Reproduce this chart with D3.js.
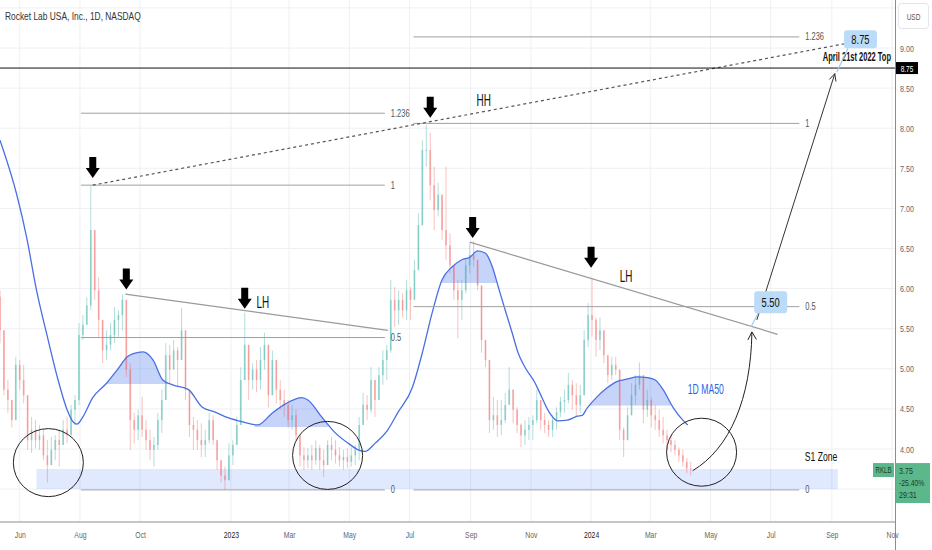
<!DOCTYPE html>
<html><head><meta charset="utf-8">
<script src="https://cdn.jsdelivr.net/npm/d3@7"></script>
<style>html,body{margin:0;padding:0;background:#fff;} svg{display:block;font-family:"Liberation Sans",Arial,sans-serif;}</style>
</head><body><svg id="c" width="932" height="550"></svg>
<script>
// ---------------- DATA ----------------
const title = "Rocket Lab USA, Inc., 1D, NASDAQ";
const candleStart = "2022-05-12";
const candleStepDays = 4;
const firstOpen = 5.90;
const highs = [5.98,5.11,4.86,4.55,5.15,5.11,5.05,4.45,4.40,4.36,
4.30,4.24,4.11,4.15,4.17,4.24,4.36,4.40,4.55,4.67,
5.57,5.67,5.89,7.29,6.48,6.14,5.52,5.48,5.57,5.77,
5.73,5.93,5.86,5.07,4.45,4.49,4.65,4.36,4.24,4.15,
4.45,4.74,5.32,5.30,5.36,5.27,5.76,5.48,4.65,4.40,
4.36,4.32,4.24,4.45,4.42,4.11,3.82,3.78,4.07,4.11,
4.40,5.02,5.70,5.23,5.07,5.11,5.27,5.45,5.02,5.23,
4.95,4.86,4.74,4.61,4.55,4.49,4.07,4.02,4.01,4.05,
4.11,4.05,3.99,4.11,4.15,4.11,4.02,3.99,4.01,4.02,
4.05,4.40,4.70,4.67,5.02,4.70,5.02,5.23,5.30,6.11,
6.02,5.98,5.94,6.11,6.02,6.36,6.94,7.85,8.04,7.94,
7.52,7.32,7.14,7.52,6.69,6.27,6.11,6.11,6.39,6.57,
6.59,6.36,5.98,5.36,5.11,4.65,4.61,4.61,4.70,5.02,
4.74,4.52,4.32,4.36,4.40,4.42,4.74,4.61,4.45,4.36,
4.42,4.52,4.65,4.74,4.95,4.86,4.82,4.80,5.48,5.82,
6.13,5.64,5.64,5.36,5.17,5.15,5.15,4.99,4.27,4.52,
4.82,4.92,5.08,4.77,4.74,4.65,4.55,4.49,4.40,4.24,
4.17,4.11,4.02,3.99,3.89,3.84];
const lows = [5.32,4.67,4.45,4.27,4.61,4.74,4.57,3.99,3.95,4.01,
3.99,3.86,3.58,3.82,3.86,3.78,4.05,4.07,4.24,4.30,
4.55,5.36,5.57,5.73,5.86,5.40,5.07,5.11,5.23,5.32,
5.40,5.48,4.90,3.99,4.07,4.11,4.15,3.99,3.86,3.78,
3.99,4.20,4.61,4.82,5.02,4.77,5.11,4.61,4.15,3.99,
3.99,3.90,3.90,4.07,4.05,3.74,3.58,3.49,3.67,3.80,
4.07,4.36,4.99,4.61,4.74,4.71,4.74,4.99,4.52,4.80,
4.57,4.49,4.40,4.27,4.24,4.11,3.78,3.74,3.76,3.74,
3.80,3.74,3.65,3.82,3.86,3.82,3.78,3.74,3.76,3.78,
3.80,3.86,4.30,4.36,4.45,4.40,4.61,4.80,4.86,5.20,
5.52,5.55,5.64,5.61,5.61,5.86,6.33,6.92,7.52,7.10,
6.73,6.90,6.61,6.36,6.19,5.86,5.38,5.61,5.94,6.19,
6.27,5.98,5.20,5.02,4.20,4.24,4.15,4.17,4.32,4.61,
4.32,4.20,4.02,4.05,4.11,4.11,4.32,4.24,4.20,4.15,
4.15,4.24,4.40,4.45,4.57,4.49,4.40,4.45,4.67,5.27,
5.40,5.15,5.23,5.07,4.82,4.86,4.92,4.11,3.90,4.15,
4.49,4.55,4.74,4.32,4.40,4.27,4.24,4.15,4.07,3.99,
3.96,3.92,3.84,3.78,3.70,3.67];
const closes = [5.48,4.74,4.61,4.36,5.05,4.86,4.67,4.11,4.24,4.11,
4.17,3.92,3.80,3.99,4.11,4.05,4.24,4.17,4.49,4.61,
5.42,5.55,5.79,6.73,5.98,5.61,5.23,5.30,5.42,5.61,
5.67,5.86,4.99,4.36,4.24,4.42,4.24,4.11,3.99,4.05,
4.36,4.61,5.17,4.99,5.23,5.11,5.48,4.74,4.30,4.24,
4.11,4.05,4.11,4.36,4.11,3.86,3.67,3.61,3.92,4.05,
4.30,4.86,5.30,4.86,4.99,4.86,5.11,5.30,4.67,5.11,
4.74,4.61,4.55,4.36,4.42,4.17,3.92,3.86,3.92,3.86,
4.01,3.86,3.80,4.05,3.99,3.92,3.86,3.90,3.84,3.92,
3.99,4.30,4.55,4.49,4.86,4.61,4.92,5.11,5.23,5.86,
5.73,5.86,5.73,5.98,5.86,6.23,6.79,7.73,7.73,7.29,
6.98,7.17,6.73,6.54,6.29,5.98,5.86,5.98,6.29,6.42,
6.36,6.04,5.36,5.11,4.36,4.42,4.30,4.36,4.55,4.74,
4.49,4.30,4.17,4.24,4.30,4.36,4.61,4.36,4.30,4.24,
4.36,4.46,4.59,4.61,4.80,4.67,4.55,4.67,5.36,5.67,
5.61,5.36,5.48,5.17,4.92,5.05,4.99,4.24,4.11,4.42,
4.67,4.80,4.92,4.49,4.61,4.42,4.36,4.24,4.17,4.11,
4.05,3.99,3.92,3.84,3.76,3.75];

const maDates = ["2022-05-12","2022-05-29","2022-06-08","2022-06-18","2022-06-29","2022-07-09","2022-07-19","2022-07-25","2022-07-29","2022-08-04",
"2022-08-14","2022-08-28","2022-09-08","2022-09-18","2022-09-24","2022-10-04","2022-10-14","2022-10-24","2022-11-03","2022-11-19",
"2022-12-03","2022-12-16","2022-12-29","2023-01-12","2023-01-28","2023-02-12","2023-02-25","2023-03-14","2023-03-20","2023-04-03",
"2023-04-16","2023-04-30","2023-05-10","2023-05-17","2023-05-27","2023-06-09","2023-06-19","2023-07-04","2023-07-14","2023-07-24",
"2023-08-03","2023-08-13","2023-08-23","2023-08-31","2023-09-08","2023-09-16","2023-09-23","2023-09-29","2023-10-06","2023-10-13",
"2023-10-19","2023-10-26","2023-11-05","2023-11-10","2023-11-20","2023-11-28","2023-12-08","2023-12-18","2023-12-23","2023-12-28",
"2024-01-07","2024-01-17","2024-01-27","2024-02-06","2024-02-17","2024-02-27","2024-03-06","2024-03-14","2024-03-24","2024-04-03",
"2024-04-08"];
const maValues = [7.85,7.17,6.64,5.98,5.40,4.90,4.49,4.34,4.31,4.40,
4.64,4.82,4.99,5.15,5.19,5.21,5.11,4.86,4.80,4.74,
4.52,4.46,4.39,4.34,4.30,4.45,4.56,4.64,4.61,4.40,
4.21,4.07,3.99,3.97,4.07,4.24,4.45,4.77,5.20,5.70,
6.11,6.27,6.36,6.39,6.47,6.44,6.27,6.02,5.73,5.45,
5.20,5.02,4.83,4.70,4.45,4.35,4.36,4.41,4.42,4.51,
4.65,4.76,4.84,4.87,4.90,4.89,4.86,4.74,4.52,4.36,
4.30];

const yTicks = [4.00,4.50,5.00,5.50,6.00,6.50,7.00,7.50,8.00,8.50,9.00];
const yGrid = [3.5,4,4.5,5,5.5,6,6.5,7,7.5,8,8.5,9,9.5];
const xTickDates = ["2022-06-01","2022-08-01","2022-10-01","2023-01-01","2023-03-01","2023-05-01","2023-07-01","2023-09-01","2023-11-01","2024-01-01","2024-03-01","2024-05-01","2024-07-01","2024-09-01","2024-11-01"];
const xTickLabels = ["Jun","Aug","Oct","2023","Mar","May","Jul","Sep","Nov","2024","Mar","May","Jul","Sep","Nov"];

// MA50 highlight zones [from, to, base]
const maHighlights = [["2022-08-20","2022-10-31",4.81],["2023-01-25","2023-04-10",4.27],["2023-07-25","2023-10-10",6.07],["2023-12-20","2024-03-28",4.54]];
// S1 zone
const s1Zone = {from:"2022-06-18", to:"2024-09-07", lo:3.50, hi:3.75, label:"S1 Zone"};
// Fibonacci retracements
const fibs = [{from:"2022-08-02", to:"2023-06-06", zero:3.49, one:7.29},{from:"2023-07-05", to:"2024-07-30", zero:3.49, one:8.06}];
const fibLevels = [0, 0.5, 1, 1.236];
const fibLabels = ["0","0.5","1","1.236"];
// Trend lines
const trendLines = [["2022-09-16",5.93,"2023-06-09",5.48],["2023-08-31",6.58,"2024-07-08",5.43]];
const dashedLine = ["2022-08-14",7.29,"2024-09-17",9.06];
const topLevel = 8.75;
const topLabel = "April 21st 2022 Top";
// Peak arrows [date, value at tip]
const peakArrows = [["2022-08-14",7.38],["2022-09-17",5.99],["2023-01-15",5.75],["2023-07-22",8.13],["2023-09-03",6.63],["2024-01-01",6.26]];
// Circles [date, value]
const circles = [["2022-06-30",3.83],["2023-04-09",3.92],["2024-04-22",3.96]];
// Text notes [date, value, text]
const notes = [["2023-01-27",5.76,"LH"],["2023-09-07",8.28,"HH"],["2024-01-30",6.08,"LH"]];
const maLabel = ["2024-04-08",4.69,"1D MA50"];
// Targets
const callouts = [{date:"2024-07-01", v:5.83, text:"5.50", pDate:"2024-06-11", pV:5.52},{date:"2024-09-30", v:9.11, text:"8.75", pDate:"2024-09-06", pV:8.70}];
const curveArrow = ["2024-04-13",3.73,"2024-06-12",5.46];
const longArrow = ["2024-06-17",5.61,"2024-09-04",8.68];
const lastPrice = {ticker:"RKLB", price:"3.75", change:"-25.40%", timer:"29:31", v:3.75};

// ---------------- DRAW ----------------
const svg = d3.select("#c");
const plotR = 895, plotB = 522;
const parse = d3.utcParse("%Y-%m-%d");
const x = d3.scaleUtc().domain([parse("2022-05-12"), parse("2024-11-04")]).range([0, plotR]);
const y = d3.scaleLinear().domain([3.5, 9]).range([489.1, 48]);
const X = s => x(parse(s));

const defs = svg.append("defs");
defs.append("clipPath").attr("id","plotClip").append("rect").attr("x",0).attr("y",0).attr("width",plotR).attr("height",plotB);

function txt(parent, px, py, s, o={}) {
  return parent.append("text")
    .attr("transform", `translate(${px},${py}) scale(${o.sx ?? 0.72},1)`)
    .attr("text-anchor", o.anchor || "start")
    .attr("font-size", o.size || 10)
    .attr("font-weight", o.weight || "normal")
    .attr("fill", o.fill || "#333")
    .text(s);
}

const plot = svg.append("g").attr("clip-path","url(#plotClip)");

// grid
plot.append("g").selectAll("line").data(yGrid).join("line")
  .attr("x1",0).attr("x2",plotR).attr("y1",d=>y(d)).attr("y2",d=>y(d))
  .attr("stroke","#eef0f4").attr("stroke-width",1);
plot.append("g").selectAll("line").data(xTickDates).join("line")
  .attr("x1",d=>X(d)).attr("x2",d=>X(d)).attr("y1",0).attr("y2",plotB)
  .attr("stroke","#eef0f4").attr("stroke-width",1);

// S1 zone
plot.append("rect").attr("x",X(s1Zone.from)).attr("width",X(s1Zone.to)-X(s1Zone.from))
  .attr("y",y(s1Zone.hi)).attr("height",y(s1Zone.lo)-y(s1Zone.hi))
  .attr("fill","rgba(41,98,255,0.14)");

// MA data
const ma = maDates.map((d,i)=>({date:parse(d), v:maValues[i]}));

// highlights
maHighlights.forEach((h,i)=>{
  const id = "hl"+i;
  defs.append("clipPath").attr("id",id).append("rect")
    .attr("x",X(h[0])).attr("width",X(h[1])-X(h[0])).attr("y",0).attr("height",y(h[2]));
  const area = d3.area().x(d=>x(d.date)).y0(y(h[2])).y1(d=>y(d.v)).curve(d3.curveMonotoneX);
  plot.append("path").attr("d",area(ma)).attr("clip-path",`url(#${id})`)
    .attr("fill","rgba(50,100,235,0.28)");
});

// candles
const start = parse(candleStart);
const candles = closes.map((c,i)=>{
  const o = i ? closes[i-1] : firstOpen;
  return {date:d3.utcDay.offset(start, i*candleStepDays), o, c, h:Math.max(highs[i],o,c), l:Math.min(lows[i],o,c)};
});
const cg = plot.append("g");
const up = "rgba(38,166,154,0.36)", dn = "rgba(239,83,80,0.36)";
cg.selectAll("line").data(candles).join("line")
  .attr("x1",d=>x(d.date)).attr("x2",d=>x(d.date)).attr("y1",d=>y(d.h)).attr("y2",d=>y(d.l))
  .attr("stroke",d=>d.c>=d.o?up:dn).attr("stroke-width",1);
cg.selectAll("rect").data(candles).join("rect")
  .attr("x",d=>x(d.date)-0.9).attr("width",1.8)
  .attr("y",d=>y(Math.max(d.o,d.c))).attr("height",d=>Math.max(1,Math.abs(y(d.o)-y(d.c))))
  .attr("fill",d=>d.c>=d.o?up:dn);

// MA line
plot.append("path").attr("d",d3.line().x(d=>x(d.date)).y(d=>y(d.v)).curve(d3.curveMonotoneX)(ma))
  .attr("fill","none").attr("stroke","#4a6fe3").attr("stroke-width",1.3);

// fibs
const ann = svg.append("g");
fibs.forEach(f=>{
  fibLevels.forEach((lv,i)=>{
    const v = f.zero + lv*(f.one-f.zero);
    ann.append("line").attr("x1",X(f.from)).attr("x2",X(f.to)).attr("y1",y(v)).attr("y2",y(v))
      .attr("stroke","#a0a0a0").attr("stroke-width",1);
    txt(ann, X(f.to)+6, y(v)+3.5, fibLabels[i], {size:10, fill:"#555", sx:0.75});
  });
});

// trend lines
trendLines.forEach(t=>{
  ann.append("line").attr("x1",X(t[0])).attr("y1",y(t[1])).attr("x2",X(t[2])).attr("y2",y(t[3]))
    .attr("stroke","#9a9a9a").attr("stroke-width",1.2);
});
ann.append("line").attr("x1",X(dashedLine[0])).attr("y1",y(dashedLine[1])).attr("x2",X(dashedLine[2])).attr("y2",y(dashedLine[3]))
  .attr("stroke","#555").attr("stroke-width",1.2).attr("stroke-dasharray","3,3");

// top level line
ann.append("line").attr("x1",0).attr("x2",plotR).attr("y1",y(topLevel)).attr("y2",y(topLevel))
  .attr("stroke","#111").attr("stroke-width",1);

// circles
ann.selectAll("ellipse").data(circles).join("ellipse")
  .attr("cx",d=>X(d[0])).attr("cy",d=>y(d[1])).attr("rx",35).attr("ry",34)
  .attr("fill","none").attr("stroke","#222").attr("stroke-width",1);

// peak arrows
peakArrows.forEach(a=>{
  const cx = X(a[0]), ty = y(a[1]);
  const pts = [[cx-3.5,ty-21],[cx+3.5,ty-21],[cx+3.5,ty-10],[cx+7,ty-10],[cx,ty],[cx-7,ty-10],[cx-3.5,ty-10]];
  ann.append("polygon").attr("points",pts.map(p=>p.join(",")).join(" ")).attr("fill","#000");
});

// notes
notes.forEach(n=> txt(ann, X(n[0]), y(n[1]), n[2], {size:16, fill:"#111", sx:0.62}));
txt(ann, X(maLabel[0]), y(maLabel[1]), maLabel[2], {size:14, fill:"#2f5fe6", sx:0.62});
txt(ann, X(s1Zone.to)-33, y(3.85), s1Zone.label, {size:12, fill:"#111", sx:0.72});
txt(ann, 891, y(topLevel)-7, topLabel, {size:12.5, fill:"#111", sx:0.6, anchor:"end", weight:"bold"});

// curved arrow
{
  const x0=X(curveArrow[0]), y0=y(curveArrow[1]), x1=X(curveArrow[2]), y1=y(curveArrow[3]);
  const p = d3.path(); p.moveTo(x0,y0); p.bezierCurveTo(x0+37,y0-22,x1-1,y1+67,x1,y1);
  ann.append("path").attr("d",p.toString()).attr("fill","none").attr("stroke","#222").attr("stroke-width",1);
  ann.append("path").attr("d",`M${x1-4},${y1+8}L${x1},${y1}L${x1+4.5},${y1+7.5}`).attr("fill","none").attr("stroke","#222").attr("stroke-width",1);
}
// long arrow
{
  const x0=X(longArrow[0]), y0=y(longArrow[1]), x1=X(longArrow[2]), y1=y(longArrow[3]);
  ann.append("line").attr("x1",x0).attr("y1",y0).attr("x2",x1).attr("y2",y1).attr("stroke","#333").attr("stroke-width",1);
  const ang = Math.atan2(y1-y0,x1-x0), L=8;
  const a1 = ang+Math.PI-0.45, a2 = ang+Math.PI+0.45;
  ann.append("path").attr("d",`M${x1+L*Math.cos(a1)},${y1+L*Math.sin(a1)}L${x1},${y1}L${x1+L*Math.cos(a2)},${y1+L*Math.sin(a2)}`)
    .attr("fill","none").attr("stroke","#333").attr("stroke-width",1);
}

// callouts
callouts.forEach(c=>{
  const cx = X(c.date), cy = y(c.v), w=33, h=c.text==="5.50"?22:18;
  ann.append("line").attr("x1",cx-w/2+4).attr("y1",cy+h/2).attr("x2",X(c.pDate)).attr("y2",y(c.pV))
    .attr("stroke","#9ccbf5").attr("stroke-width",1.2);
  ann.append("rect").attr("x",cx-w/2).attr("y",cy-h/2).attr("width",w).attr("height",h).attr("rx",3)
    .attr("fill","#bbdcf8");
  txt(ann, cx, cy+4.5, c.text, {size:13, fill:"#111", sx:0.72, anchor:"middle"});
});

// title
txt(svg, 5, 20, title, {size:10.5, fill:"#333", sx:0.8});

// axes
const ax = svg.append("g");
ax.append("line").attr("x1",0).attr("x2",plotR).attr("y1",plotB).attr("y2",plotB).attr("stroke","#8a8d96");
ax.append("line").attr("x1",plotR+0.5).attr("x2",plotR+0.5).attr("y1",0).attr("y2",550).attr("stroke","#8a8d96");

const xAxis = d3.axisBottom(x).tickValues(xTickDates.map(parse)).tickFormat((d,i)=>xTickLabels[i]).tickSize(0).tickPadding(9);
const gx = svg.append("g").attr("transform",`translate(0,${plotB})`).call(xAxis);
gx.select(".domain").remove();
gx.selectAll("text").attr("font-size",9.5).attr("font-family","Liberation Sans, Arial, sans-serif")
  .attr("fill",(d,i)=>/^\d{4}$/.test(xTickLabels[i])?"#222":"#666")
  .attr("transform","scale(0.72,1)");

const yAxis = d3.axisRight(y).tickValues(yTicks).tickFormat(d3.format(".2f")).tickSize(0).tickPadding(0);
const gy = svg.append("g").attr("transform",`translate(900,0)`).call(yAxis);
gy.select(".domain").remove();
gy.selectAll("text").attr("font-size",9.5).attr("font-family","Liberation Sans, Arial, sans-serif").attr("fill","#666")
  .attr("transform","scale(0.75,1)");

// USD box
ax.append("rect").attr("x",898.5).attr("y",3.5).attr("width",30).attr("height",25).attr("rx",3)
  .attr("fill","#fff").attr("stroke","#e3e5ea");
txt(ax, 913.5, 20, "USD", {size:9, fill:"#555", sx:0.72, anchor:"middle"});

// top-level axis label
ax.append("rect").attr("x",896).attr("y",y(topLevel)-6).attr("width",22).attr("height",12).attr("fill","#000");
txt(ax, 907, y(topLevel)+3.5, d3.format(".2f")(topLevel), {size:9, fill:"#fff", sx:0.72, anchor:"middle"});

// last price label
ax.append("rect").attr("x",873).attr("y",y(lastPrice.v)-6).attr("width",21).attr("height",14).attr("fill","#5cb88a");
txt(ax, 883.5, y(lastPrice.v)+4, lastPrice.ticker, {size:8.5, fill:"#1d3b2c", sx:0.72, anchor:"middle"});
ax.append("rect").attr("x",896).attr("y",y(lastPrice.v)-6).attr("width",34).attr("height",40).attr("fill","#5cb88a");
txt(ax, 899, y(lastPrice.v)+4.5, lastPrice.price, {size:9.5, fill:"#1d3b2c", sx:0.75});
txt(ax, 899, y(lastPrice.v)+17, lastPrice.change, {size:9.5, fill:"#1d3b2c", sx:0.72});
txt(ax, 899, y(lastPrice.v)+29, lastPrice.timer, {size:9.5, fill:"#1d3b2c", sx:0.75});
</script></body></html>
